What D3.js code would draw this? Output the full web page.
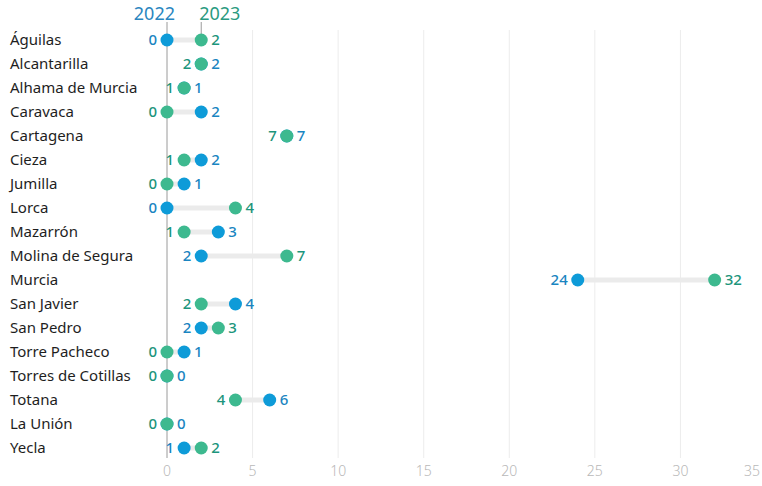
<!DOCTYPE html>
<html>
<head>
<meta charset="utf-8">
<script src="https://cdn.jsdelivr.net/npm/d3@7"></script>
<style>
  body { margin: 0; background: #fff; }
  text { font-family: "Noto Sans", sans-serif; }
</style>
</head>
<body>
<svg id="chart"></svg>
<script>
const municipios = ["Águilas", "Alcantarilla", "Alhama de Murcia", "Caravaca", "Cartagena", "Cieza",
  "Jumilla", "Lorca", "Mazarrón", "Molina de Segura", "Murcia", "San Javier", "San Pedro",
  "Torre Pacheco", "Torres de Cotillas", "Totana", "La Unión", "Yecla"];
const valores2022 = [0, 2, 1, 2, 7, 2, 1, 0, 3, 2, 24, 4, 2, 1, 0, 6, 0, 1];
const valores2023 = [2, 2, 1, 0, 7, 1, 0, 4, 1, 7, 32, 2, 3, 0, 0, 4, 0, 2];
const ticks = [0, 5, 10, 15, 20, 25, 30, 35];

const width = 762, height = 486;
const blue = "#0e9bd8", green = "#3db98f";
const blueText = "#1a85c1", greenText = "#1d957c";

const rows = municipios.map((m, i) => ({ name: m, a: valores2022[i], b: valores2023[i] }));

const svg = d3.select("#chart").attr("width", width).attr("height", height);

const x = d3.scaleLinear().domain([0, 35]).range([167, 766]);
const y = d3.scalePoint().domain(municipios).range([40, 448]);

// grid
svg.append("g").selectAll("line")
  .data(ticks.filter(t => t > 0))
  .enter().append("line")
  .attr("x1", d => x(d)).attr("x2", d => x(d))
  .attr("y1", 30).attr("y2", 458)
  .attr("stroke", "#ececec").attr("stroke-width", 1);

svg.append("line")
  .attr("x1", x(0)).attr("x2", x(0))
  .attr("y1", 22).attr("y2", 458)
  .attr("stroke", "#9a9a9a").attr("stroke-width", 1);

// tick labels
svg.append("g").selectAll("text")
  .data(ticks)
  .enter().append("text")
  .attr("x", d => d === 35 ? width - 2 : x(d))
  .attr("y", 476)
  .attr("text-anchor", d => d === 35 ? "end" : "middle")
  .attr("fill", "#b8b8b8")
  .attr("font-size", 14)
  .attr("font-weight", 300)
  .text(d => d);

// header labels
const first = rows[0];
svg.append("line").attr("x1", x(first.b)).attr("x2", x(first.b)).attr("y1", 22).attr("y2", y(first.name))
  .attr("stroke", "#9a9a9a");
svg.append("text").attr("x", x(first.a) + 8).attr("y", 20).attr("text-anchor", "end")
  .attr("fill", "#2a86c0").attr("font-size", 18).text("2022");
svg.append("text").attr("x", x(first.b) - 2).attr("y", 20).attr("text-anchor", "start")
  .attr("fill", "#2a9a80").attr("font-size", 18).text("2023");

const g = svg.append("g").selectAll("g").data(rows).enter().append("g")
  .attr("transform", d => `translate(0,${y(d.name)})`);

g.append("text")
  .attr("x", 10).attr("dy", "0.35em")
  .attr("fill", "#1e1e1e").attr("font-size", 15)
  .text(d => d.name);

g.append("line")
  .attr("x1", d => x(d.a)).attr("x2", d => x(d.b))
  .attr("stroke", "#ebebeb").attr("stroke-width", 5);

g.append("circle").attr("cx", d => x(d.a)).attr("r", 6.5).attr("fill", blue);
g.append("circle").attr("cx", d => x(d.b)).attr("r", 6.5).attr("fill", green);

// value labels: lower value left, higher right; ties -> 2023 left
g.append("text")
  .attr("x", d => x(Math.min(d.a, d.b)) - 10)
  .attr("dy", "0.35em").attr("text-anchor", "end")
  .attr("font-size", 15).attr("font-weight", 500)
  .attr("fill", d => d.a < d.b ? blueText : greenText)
  .text(d => Math.min(d.a, d.b));

g.append("text")
  .attr("x", d => x(Math.max(d.a, d.b)) + 10)
  .attr("dy", "0.35em")
  .attr("font-size", 15).attr("font-weight", 500)
  .attr("fill", d => d.a < d.b ? greenText : blueText)
  .text(d => Math.max(d.a, d.b));
</script>
</body>
</html>
